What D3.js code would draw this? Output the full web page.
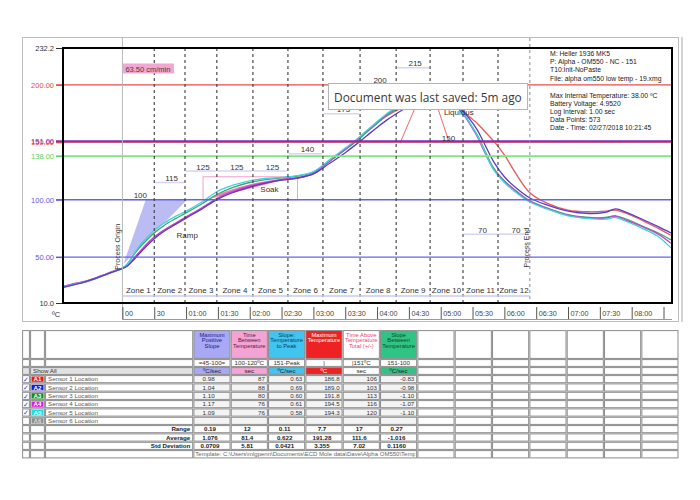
<!DOCTYPE html>
<html><head><meta charset="utf-8">
<script src="https://cdn.jsdelivr.net/npm/d3@7"></script>
<style>body{margin:0;background:#fff}svg{display:block}</style>
</head><body>
<svg id="c" width="700" height="500"></svg>
<script>
// ---------------- DATA ----------------
const times = [-56,-45,-35,-25,-15,-5,0,5,10,15,20,30,40,50,60,75,90,105,120,135,150,165,180,195,210,220,230,240,250,260,270,280,290,300,310,320,330,335,340,350,360,370,384,400,420,440,455,465,475,490,505,517];
const sensorA1 = [24.2,26.7,28.7,31.7,35.2,38.5,40.2,42.7,47.7,53.2,58.2,67.2,73.7,79.2,84.7,92.7,101.2,107.2,111.7,114.7,117.2,118.7,122.7,133.3,143.8,151.3,159.3,167,173.5,178.5,182.5,185.5,186.8,186.5,184.5,178,170,166,161,151,139,124,106,97,91,89.5,90,91,88,82,75,69];
const sensorA2 = [23.5,26,28.5,31.5,35,38.5,40,42.5,47,52,57,66,73,78.5,84,92,100.5,106.5,111,114.5,117,119,122.5,131.5,141,148,155.5,163,170,176,181.5,186,189,188.5,185,178,167,160,151,133,120,111,101.5,95.5,90,88,89,92,89,83,76.5,71];
const sensorA3 = [24,26.3,28.5,31.5,35,38.5,40.5,44.5,51,57,62,71,78,83.5,88.5,96.5,105,111,115,117.5,119,120.5,124,133.5,143.5,150.5,158.5,166.5,174,180,185.5,190,191.8,190,185,176,163,155.5,146,127.5,116.5,108.5,99,93,87,84.5,84.5,86,83,77,71,65];
const sensorA4 = [24.5,27,29,32,35.5,38.8,40.5,43,48,53.5,58.5,67.5,74,79.5,85,93,101.5,107.5,112,115,117.5,119,123,133.5,144,151.5,159.5,167.5,175,181.5,187.5,192,194.5,192.5,186.5,176.5,162,154,144,126.5,116,108,98.5,92.5,86.5,84,84,85.5,82,76.5,70,62];
const sensorA5 = [24,26.5,28.3,31.3,35,38.3,40,44,51.5,58.5,64,73.5,80,85.5,90,98,107.5,113,116.5,118.5,119.5,121,124.5,134.5,145,152,160,168,175.5,182,188,192.5,194.3,192,186,177,163,155,145,126,115,107,98,92,86,83.5,83,84.5,81,75,68,58];
const sensorIds = ["A1","A2","A3","A4","A5","A6"];
const sensorLabels = ["Sensor 1 Location","Sensor 2 Location","Sensor 3 Location","Sensor 4 Location","Sensor 5 Location","Sensor 6 Location"];

const zoneBounds = [0,30,59,89,123,156,189,224,258,290,321,354,384];
const zoneNames = ["Zone 1","Zone 2","Zone 3","Zone 4","Zone 5","Zone 6","Zone 7","Zone 8","Zone 9","Zone 10","Zone 11","Zone 12"];
const zoneSetpoints = [100,115,125,125,125,140,175,200,215,150,70,70];

const refValues = [200,150,151,138,100,50];
const yTickValues = [232.2,200,150,151,138,100,50,10];
const yTickLabels = ["232.2","200.00","150.00","151.00","138.00","100.00","50.00","10.0"];
const xTickValues = [0,30,60,90,120,150,180,210,240,270,300,330,360,390,420,450,480,510];
const xTickLabels = ["00","30","01:00","01:30","02:00","02:30","03:00","03:30","04:00","04:30","05:00","05:30","06:00","06:30","07:00","07:30","08:00",""];

const rampWedge = [[1,44],[22,100],[61,100]];
const soakWindow = [76,165,100,120];
const soakFill = [[79,100],[95,106.5],[110,111],[125,114.5],[140,117],[159,119.5],[159,119]];
const peakTent = [[[262,150],[285,200]],[[290,200],[308,150]]];

const infoLines1 = ["M: Heller 1936 MK5","P: Alpha - OM550 - NC - 151","T10:Init-NoPaste","File: alpha om550 low temp - 19.xmg"];
const infoLines2 = ["Max Internal Temperature:  38.00 ºC","Battery Voltage: 4.9520","Log Interval: 1.00 sec","Data Points: 573","Date - Time: 02/27/2018 10:21:45"];

const metricHeaders = [["Maximum","Positive","Slope"],["Time","Between","Temperature"],["Slope:","Temperature","to Peak"],["Maximum","Temperature"],["Time Above","Temperature","Total (+/-)"],["Slope","Between","Temperature"]];
const metricParams = ["=45-100=","100-120ºC","151-Peak","|","|151ºC","151-100"];
const metricUnits = ["ºC/sec","sec","ºC/sec","ºC","sec","ºC/sec"];
const maxPosSlope = ["0.98","1.04","1.10","1.17","1.09"];
const timeBetween = ["87","88","80","76","76"];
const slopeToPeak = ["0.63","0.69","0.60","0.61","0.58"];
const maxTemperature = ["186.8","189.0","191.8","194.5","194.3"];
const timeAbove = ["106","103","113","116","120"];
const slopeBetween = ["-0.83","-0.98","-1.10","-1.07","-1.10"];
const statLabels = ["Range","Average","Std Deviation"];
const statRange = ["0.19","12","0.11","7.7","17","0.27"];
const statAverage = ["1.076","81.4","0.622","191.28","111.6","-1.016"];
const statStd = ["0.0709","5.81","0.0421","3.355","7.02","0.1160"];
const templateText = "Template: C:\\Users\\mlgpenn\\Documents\\ECD Mole data\\Dave\\Alpha OM550\\Template";

// ---------------- STYLE ----------------
const FONT = "'Liberation Sans', Arial, sans-serif";
const sensorColors = ["#e65a5a","#5a3ccc","#3fa868","#cc44cc","#3fd3df"];
const refColors = {200:"#e84a4a",150:"#e84a4a",151:"#7a30c0",138:"#82e482",100:"#6464ea",50:"#6464ea"};
const refWidths = {200:1.2,150:1,151:2,138:1.6,100:1.4,50:1.4};
const yLabelColors = ["#333","#e84a4a","#e84a4a","#7a30c0","#5ed05e","#5a5ae6","#5a5ae6","#333"];
const badgeColors = ["#e81818","#1a1ae0","#128a12","#e018e0","#18e0e0","#8c8c8c"];
const headerFills = ["#a8a8f4","#f4a4d4","#40c4f0","#ee2222","#ffffff","#30c484"];
const headerText = ["#1c1c7c","#5a2040","#103c5c","#ffffff","#f04070","#0c4a2a"];

const svg = d3.select("#c");
const X = d3.scaleLinear().domain([-56, 518]).range([63, 672]);
const Y = d3.scaleLinear().domain([10, 232.2]).range([303, 48]);

// outer widget frame
svg.append("rect").attr("x",22.5).attr("y",37.5).attr("width",656).attr("height",284)
  .attr("fill","#fff").attr("stroke","#bdbdbd");
svg.append("line").attr("x1",682).attr("x2",682).attr("y1",37).attr("y2",322).attr("stroke","#d4d4d4").attr("stroke-width",2);

// clip
svg.append("clipPath").attr("id","plotclip").append("rect")
  .attr("x",X(-56)).attr("y",Y(232.2)).attr("width",X(518)-X(-56)).attr("height",Y(10)-Y(232.2));
const plot = svg.append("g").attr("clip-path","url(#plotclip)");

// zone setpoint bars
zoneSetpoints.forEach((sp,i)=>{
  plot.append("line").attr("x1",X(zoneBounds[i])+1).attr("x2",X(zoneBounds[i+1])-1)
    .attr("y1",Y(sp)).attr("y2",Y(sp)).attr("stroke","#d4d4f4").attr("stroke-width",1.5);
});

// reference lines
refValues.forEach(v=>{
  svg.append("line").attr("x1",56).attr("x2",X(518)).attr("y1",Y(v)).attr("y2",Y(v))
    .attr("stroke",refColors[v]).attr("stroke-width",refWidths[v]);
});

// ramp wedge
plot.append("path").attr("d",d3.line().x(d=>X(d[0])).y(d=>Y(d[1]))(rampWedge)+"Z")
  .attr("fill","#b0b0f2").attr("opacity",0.85);

// soak window
plot.append("rect").attr("x",X(soakWindow[0])).attr("y",Y(soakWindow[3]))
  .attr("width",X(soakWindow[1])-X(soakWindow[0])).attr("height",Y(soakWindow[2])-Y(soakWindow[3]))
  .attr("fill","none").attr("stroke","#f2a0cc").attr("stroke-width",1);
plot.append("path").attr("d",d3.line().x(d=>X(d[0])).y(d=>Y(d[1]))(soakFill)+"Z")
  .attr("fill","#f060b4").attr("opacity",0.85);

// zone dashed lines
zoneBounds.slice(1,-1).forEach(t=>{
  svg.append("line").attr("x1",X(t)).attr("x2",X(t)).attr("y1",Y(232.2)).attr("y2",302)
    .attr("stroke","#3a3a3a").attr("stroke-width",1.1).attr("stroke-dasharray","3,3");
});
// process origin / end
svg.append("line").attr("x1",X(0)).attr("x2",X(0)).attr("y1",38).attr("y2",320)
  .attr("stroke","#b8b8b8").attr("stroke-width",1);
svg.append("line").attr("x1",X(384)).attr("x2",X(384)).attr("y1",38).attr("y2",302)
  .attr("stroke","#8a8a8a").attr("stroke-width",1).attr("stroke-dasharray","3,3");

// lavender line under zone labels
svg.append("line").attr("x1",X(0)).attr("x2",X(384)).attr("y1",296).attr("y2",296)
  .attr("stroke","#c8c8f2").attr("stroke-width",1.5);

// zone labels + setpoint labels
zoneNames.forEach((n,i)=>{
  const cx = (X(zoneBounds[i])+X(zoneBounds[i+1]))/2;
  svg.append("text").attr("x",cx).attr("y",293).attr("text-anchor","middle")
    .attr("font-family",FONT).attr("font-size",8).attr("fill","#333").text(n);
  svg.append("text").attr("x",cx+2).attr("y",Y(zoneSetpoints[i])-1.5).attr("text-anchor","middle")
    .attr("font-family",FONT).attr("font-size",8).attr("fill","#333").text(zoneSetpoints[i]);
});

// series
const line = d3.line().x((d,i)=>X(times[i])).y(d=>Y(d)).curve(d3.curveCatmullRom.alpha(0.5));
const series = [sensorA1,sensorA3,sensorA4,sensorA5,sensorA2];
const seriesColor = [sensorColors[0],sensorColors[2],sensorColors[3],sensorColors[4],sensorColors[1]];
series.forEach((s,k)=>{
  plot.append("path").attr("d",line(s)).attr("fill","none")
    .attr("stroke",seriesColor[k]).attr("stroke-width",1.3);
});

// peak tent lines
peakTent.forEach(seg=>{
  plot.append("line").attr("x1",X(seg[0][0])).attr("y1",Y(seg[0][1]))
    .attr("x2",X(seg[1][0])).attr("y2",Y(seg[1][1])).attr("stroke","#ec6a6a").attr("stroke-width",1);
});

// annotations
const ann = (x,y,t,opt={})=>svg.append("text").attr("x",x).attr("y",y)
  .attr("font-family",FONT).attr("font-size",opt.size||8).attr("fill",opt.fill||"#333")
  .attr("text-anchor",opt.anchor||"start").text(t);
ann(X(51),Y(67),"Ramp");
ann(X(130),Y(107),"Soak");
ann(X(303),Y(175)+1,"Liquidus");
svg.append("text").attr("transform",`translate(${X(0)-2},${Y(39)}) rotate(-90)`)
  .attr("font-family",FONT).attr("font-size",7).attr("fill","#333").text("Process Origin");
svg.append("text").attr("transform",`translate(${X(384)-1},${Y(41)}) rotate(-90)`)
  .attr("font-family",FONT).attr("font-size",7).attr("fill","#333").text("Process End");

// speed box
svg.append("rect").attr("x",X(0)+0.5).attr("y",63.5).attr("width",51).attr("height",10).attr("fill","#f2a6d2");
ann(X(0)+3,71.5,"63.50 cm/min",{size:7.5,fill:"#444"});

// info text
infoLines1.forEach((t,i)=>ann(550,56+i*8.2,t,{size:6.8,fill:"#222"}));
infoLines2.forEach((t,i)=>ann(550,97.5+i*8.2,t,{size:6.8,fill:"#222"}));

// Y axis
const yAxis = svg.append("g").attr("transform","translate(63,0)")
  .call(d3.axisLeft(Y).tickValues(yTickValues).tickFormat((d,i)=>yTickLabels[i]).tickSize(7).tickPadding(2));
yAxis.select(".domain").remove();
yAxis.selectAll(".tick line").attr("stroke",(d,i)=>yLabelColors[i]);
yAxis.selectAll(".tick text").attr("fill",(d,i)=>yLabelColors[i]).attr("font-family",FONT).attr("font-size",7.5);
ann(52,317,"ºC",{size:7.5});

// X axis
const xAxis = svg.append("g").attr("transform","translate(0,307)")
  .call(d3.axisBottom(X).tickValues(xTickValues).tickFormat((d,i)=>xTickLabels[i]).tickSizeInner(12).tickSizeOuter(0));
xAxis.select(".domain").remove();
xAxis.selectAll(".tick line").attr("stroke","#555");
xAxis.selectAll(".tick text").attr("text-anchor","start").attr("x",2).attr("y",4).attr("dy","0.71em")
  .attr("font-family",FONT).attr("font-size",7.2).attr("fill","#444");
svg.append("line").attr("x1",X(0)).attr("x2",672).attr("y1",319.5).attr("y2",319.5).attr("stroke","#9a9a9a");

// plot frame
svg.append("rect").attr("x",63).attr("y",48).attr("width",609).attr("height",255)
  .attr("fill","none").attr("stroke","#000").attr("stroke-width",2);

// tooltip
svg.append("rect").attr("x",328.5).attr("y",83.5).attr("width",199).attr("height",26)
  .attr("fill","#fff").attr("stroke","#b4b4b4");
const tip = svg.append("text").attr("x",334).attr("y",101.5).attr("font-family","'Open Sans', 'Noto Sans', sans-serif")
  .attr("font-size",14.5).attr("fill","#3a3a3a").text("Document was last saved: 5m ago");
const tipW = tip.node().getComputedTextLength();
if (tipW > 0) tip.attr("font-size", Math.min(15, 14.5*188/tipW));

// ---------------- TABLE ----------------
const colEdges = [22,30,45,193.3];
for(let i=1;i<=13;i++) colEdges.push(193.3+i*37.33);
const rowEdges = [330,359,367,375,383.3,391.7,400,408.3,416.7,425,433.3,441.7,450,458.5];
const tbl = svg.append("g");
const cell = (x0,x1,y0,y1,fill)=>tbl.append("rect").attr("x",x0+0.6).attr("y",y0+0.6)
  .attr("width",x1-x0-1.2).attr("height",y1-y0-1.2).attr("fill",fill||"#fff")
  .attr("stroke","#8c8c8c").attr("stroke-width",1);
const ttext = (x,y,t,opt={})=>tbl.append("text").attr("x",x).attr("y",y)
  .attr("font-family",FONT).attr("font-size",opt.size||6.2).attr("fill",opt.fill||"#333")
  .attr("font-weight",opt.bold?"bold":"normal").attr("text-anchor",opt.anchor||"start").text(t);
const nCols = colEdges.length-1;
for(let r=0;r<rowEdges.length-1;r++){
  const y0=rowEdges[r], y1=rowEdges[r+1], ym=(y0+y1)/2+2.2;
  if(r===2){
    cell(colEdges[0],colEdges[1],y0,y1,"#e2e2e2");
    cell(colEdges[1],colEdges[3],y0,y1,"#e2e2e2");
    ttext(colEdges[1]+3,ym,"Show All");
  } else {
    cell(colEdges[0],colEdges[1],y0,y1,"#fff");
    cell(colEdges[1],colEdges[2],y0,y1,"#fff");
    cell(colEdges[2],colEdges[3],y0,y1,"#fff");
  }
  if(r>=3 && r<=8){
    const si=r-3;
    if(si<5) ttext(colEdges[0]+1,ym+0.5,"✓",{size:7,fill:"#2448c8"});
    tbl.append("rect").attr("x",colEdges[1]+1.5).attr("y",y0+1.5).attr("width",colEdges[2]-colEdges[1]-3)
      .attr("height",y1-y0-3).attr("fill",badgeColors[si]);
    ttext((colEdges[1]+colEdges[2])/2,ym,sensorIds[si],{bold:true,fill:si<5?"#fff":"#d8d8d8",anchor:"middle"});
    ttext(colEdges[2]+3,ym,sensorLabels[si],{fill:"#555"});
  }
  if(r>=9 && r<=11){
    ttext(colEdges[3]-3,ym,statLabels[r-9],{bold:true,anchor:"end",fill:"#222"});
  }
  if(r===12){
    cell(colEdges[3],colEdges[9],y0,y1,"#fff");
    for(let c=9;c<nCols;c++) cell(colEdges[c],colEdges[c+1],y0,y1,"#fff");
    tbl.append("clipPath").attr("id","tplclip").append("rect").attr("x",colEdges[3]).attr("y",y0).attr("width",colEdges[9]-colEdges[3]-2).attr("height",y1-y0);
    tbl.append("text").attr("clip-path","url(#tplclip)").attr("x",colEdges[3]+2).attr("y",ym)
      .attr("font-family",FONT).attr("font-size",6).attr("fill","#666").text(templateText);
    continue;
  }
  for(let c=3;c<nCols;c++){
    const m=c-3, x0=colEdges[c], x1=colEdges[c+1], xm=(x0+x1)/2;
    let fill="#fff";
    if(m<6){
      if(r===0) fill=headerFills[m];
      else if(r===2) fill=headerFills[m];
      else if(r>=3 && r<=8) fill="#f4f4f4";
    }
    cell(x0,x1,y0,y1,fill);
    if(m>=6) continue;
    if(r===0){
      metricHeaders[m].forEach((ln,k)=>ttext(xm,y0+6.5+k*5.6,ln,{size:5.8,fill:headerText[m],anchor:"middle"}));
    } else if(r===1){
      ttext(xm,ym,metricParams[m],{anchor:"middle",fill:"#333"});
    } else if(r===2){
      ttext(xm,ym,metricUnits[m],{anchor:"middle",fill:m===3?"#fff":"#222"});
    } else if(r>=3 && r<=7){
      const vals=[maxPosSlope,timeBetween,slopeToPeak,maxTemperature,timeAbove,slopeBetween][m];
      ttext(m===0?x1-16:x1-3,ym,vals[r-3],{anchor:"end",fill:"#333"});
    } else if(r>=9 && r<=11){
      const vals=[statRange,statAverage,statStd][r-9];
      ttext(xm-2,ym,vals[m],{anchor:"middle",bold:true,fill:"#222"});
    }
  }
}
</script>
</body></html>
